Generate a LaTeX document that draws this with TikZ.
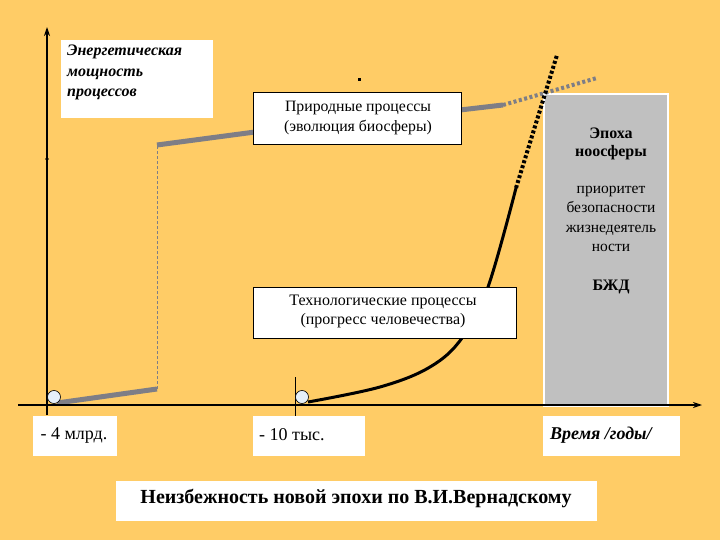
\documentclass[tikz,border=0pt]{standalone}
\usepackage{fontspec}
\setmainfont{Liberation Serif}
\usetikzlibrary{arrows.meta}
\definecolor{bg}{HTML}{FFCC66}
\definecolor{boxgray}{HTML}{C0C0C0}
\definecolor{linegray}{HTML}{7E7E86}
\definecolor{dotfill}{HTML}{E6F0FA}
\begin{document}
\begin{tikzpicture}[x=1pt,y=-1pt,
  whitebox/.style={fill=white, inner sep=0pt, anchor=north west},
  framebox/.style={fill=white, draw=black, line width=0.9pt, inner sep=0pt, anchor=north west},
  txt/.style={inner sep=0pt, align=center},
  thickgray/.style={linegray, line width=5pt},
  startdot/.style={circle, draw=black, fill=dotfill, line width=0.6pt, minimum size=13pt, inner sep=0pt},
  axisline/.style={black, line width=1.2pt},
]
\fill[bg] (0,0) rectangle (720,540);
\useasboundingbox (0,0) rectangle (720,540);

% noosphere box
\node[fill=boxgray, draw=white, line width=2pt, inner sep=0pt, anchor=north west,
      minimum width=124pt, minimum height=312pt] (noo) at (543,93) {};
\node[txt, font=\fontsize{16}{18.5}\selectfont\bfseries] (epoch) at (611,144) {Эпоха\\ноосферы};
\node[txt, font=\fontsize{15.5}{19.5}\selectfont] (prio) at (611,219) {приоритет\\безопасности\\жизнедеятель\\ности};
\node[txt, font=\fontsize{16}{18}\selectfont\bfseries] (bzd) at (611,287) {БЖД};

% coordinates
\coordinate (g0) at (57,403);
\coordinate (g1) at (157,389);
\coordinate (g2) at (157,145);
\coordinate (g3) at (255,132);
\coordinate (g4) at (460,110);
\coordinate (g5) at (503,105);
\coordinate (g6) at (597,78);
\coordinate (t1) at (516,188);
\coordinate (t2) at (557,55);

% natural process line
\draw[thickgray] (g0) -- (g1);
\draw[linegray, line width=0.8pt, dash pattern=on 3pt off 2pt] (g1) -- (g2);
\draw[thickgray] (g2) -- (g3);
\draw[thickgray] (g4) -- (g5);
\draw[linegray, line width=4pt, dash pattern=on 3pt off 2.5pt] (g5) -- (g6);

% technological curve
\draw[black, line width=3pt] plot[smooth, tension=0.6] coordinates {(308,402) (380,387) (430,367) (462,338) (488,287) (516,188)};
\draw[black, line width=4pt, dash pattern=on 3pt off 2.2pt] (t1) -- (t2);

% boxes
\node[whitebox, minimum width=152pt, minimum height=78pt] (energy) at (61,40) {};
\node[inner sep=0pt, anchor=north west, align=left, font=\fontsize{16}{20.5}\selectfont\bfseries\itshape] (energyt) at (67,45) {Энергетическая\\мощность\\процессов};

\node[framebox, minimum width=208pt, minimum height=52pt] (nat) at (253,92) {};
\node[txt, font=\fontsize{15.8}{20}\selectfont] (natt) at (358,118) {Природные процессы\\(эволюция биосферы)};

\node[framebox, minimum width=263pt, minimum height=51pt] (tech) at (253,287) {};
\node[txt, font=\fontsize{16}{19}\selectfont] (techt) at (383,311) {Технологические процессы\\(прогресс человечества)};

\fill[black] (357.5,78.5) rectangle (360.5,81.5);

% axes
\draw[axisline, -{Stealth[length=9pt,width=6pt]}] (47,415) -- (47,27);
\draw[axisline, -{Stealth[length=9pt,width=6pt]}] (18,405) -- (702,405);
\draw[black, line width=0.8pt] (295,377) -- (295,416);
\fill[black] (47,159) circle (1.8pt);

% start dots
\node[startdot] (d1) at (54,397) {};
\node[startdot] (d2) at (302,397) {};

% axis labels
\node[whitebox, minimum width=84pt, minimum height=40pt] (l1) at (33,416) {};
\node[inner sep=0pt, font=\fontsize{18}{20}\selectfont] (l1t) at (74,435) {- 4 млрд.};
\node[whitebox, minimum width=112pt, minimum height=40pt] (l2) at (253,416) {};
\node[inner sep=0pt, anchor=west, font=\fontsize{18}{20}\selectfont] (l2t) at (259,435) {- 10 тыс.};
\node[whitebox, minimum width=137pt, minimum height=40pt] (l3) at (543,416) {};
\node[inner sep=0pt, anchor=west, font=\fontsize{18}{20}\selectfont\bfseries\itshape] (l3t) at (550,435) {Время /годы/};

% title
\node[whitebox, minimum width=481pt, minimum height=40pt] (title) at (116,481) {};
\node[inner sep=0pt, font=\fontsize{20}{22}\selectfont\bfseries] (titlet) at (356,498) {Неизбежность новой эпохи по В.И.Вернадскому};
\end{tikzpicture}
\end{document}
